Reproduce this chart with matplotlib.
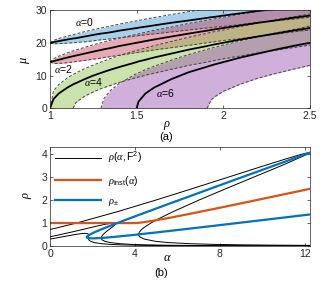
import numpy as np
import matplotlib
matplotlib.use('Agg')
import matplotlib.pyplot as plt

plt.rcParams['font.family'] = ['Liberation Sans', 'DejaVu Sans']
plt.rcParams['mathtext.fontset'] = 'custom'
plt.rcParams['mathtext.rm'] = 'Liberation Sans'
plt.rcParams['mathtext.sf'] = 'Liberation Sans'
plt.rcParams['mathtext.it'] = 'Liberation Serif:italic'

nan = np.nan

# ---- panel (a): instability bands, mu vs rho, for alpha = 0, 2, 4, 6
rho_a = [1.0, 1.02, 1.05, 1.1, 1.133, 1.15, 1.2, 1.25, 1.294, 1.31, 1.35, 1.4, 1.5, 1.51,
         1.55, 1.6, 1.7, 1.8, 1.906, 1.93, 1.95, 2.0, 2.1, 2.2, 2.3, 2.4, 2.5]

mu0_mid = [20.0, 20.2, 20.5, 21.0, 21.3, 21.4, 21.9, 22.4, 22.8, 22.9, 23.2, 23.7, 24.5, 24.6,
           24.9, 25.3, 26.1, 26.8, 27.6, 27.8, 27.9, 28.3, 29.0, 29.7, 30.3, 31.0, 31.6]
mu0_hi = [20.0, 20.7, 21.3, 22.0, 22.5, 22.7, 23.4, 24.0, 24.5, 24.7, 25.1, 25.7, 26.7, 26.8,
          27.2, 27.7, 28.6, 29.5, 30.4, 30.6, 30.8, 31.2, 32.0, 32.8, 33.6, 34.3, 35.1]
mu0_lo = [20.0, 19.7, 19.7, 19.9, 20.0, 20.1, 20.3, 20.6, 20.9, 21.0, 21.2, 21.5, 22.1, 22.2,
          22.4, 22.7, 23.3, 23.9, 24.5, 24.6, 24.8, 25.0, 25.6, 26.2, 26.7, 27.2, 27.8]

mu2_mid = [14.1, 14.4, 14.8, 15.5, 15.9, 16.1, 16.7, 17.3, 17.8, 18.0, 18.4, 19.0, 20.0, 20.1,
           20.5, 21.0, 21.9, 22.8, 23.7, 23.9, 24.1, 24.5, 25.3, 26.1, 26.8, 27.6, 28.3]
mu2_hi = [14.1, 15.1, 15.9, 16.9, 17.5, 17.8, 18.6, 19.4, 20.0, 20.2, 20.8, 21.4, 22.6, 22.7,
          23.2, 23.8, 24.8, 25.9, 26.9, 27.1, 27.3, 27.8, 28.7, 29.6, 30.4, 31.3, 32.1]
mu2_lo = [14.1, 13.7, 13.7, 13.9, 14.1, 14.3, 14.6, 15.0, 15.3, 15.5, 15.8, 16.2, 17.0, 17.1,
          17.4, 17.8, 18.5, 19.2, 20.0, 20.2, 20.3, 20.7, 21.3, 22.0, 22.6, 23.3, 23.9]

mu4_mid = [0.0, 2.8, 4.5, 6.3, 7.3, 7.7, 8.9, 10.0, 10.8, 11.1, 11.8, 12.6, 14.1, 14.3,
           14.8, 15.5, 16.7, 17.9, 19.0, 19.3, 19.5, 20.0, 21.0, 21.9, 22.8, 23.7, 24.5]
mu4_hi = [0.0, 5.3, 7.2, 9.3, 10.3, 10.8, 12.1, 13.2, 14.1, 14.4, 15.2, 16.1, 17.7, 17.8,
          18.4, 19.1, 20.4, 21.7, 22.9, 23.2, 23.4, 23.9, 25.0, 26.0, 27.0, 27.9, 28.8]
mu4_lo = [nan, nan, nan, nan, 0.0, 1.8, 3.7, 5.0, 6.0, 6.3, 7.0, 7.9, 9.4, 9.5,
          10.1, 10.7, 11.9, 13.1, 14.1, 14.4, 14.6, 15.1, 16.0, 16.9, 17.7, 18.5, 19.3]

mu6_mid = [nan, nan, nan, nan, nan, nan, nan, nan, nan, nan, nan, nan, 0.0, 2.0,
           4.5, 6.3, 8.9, 11.0, 12.7, 13.1, 13.4, 14.1, 15.5, 16.7, 17.9, 19.0, 20.0]
mu6_hi = [nan, nan, nan, nan, nan, nan, nan, nan, 0.0, 2.9, 5.5, 7.6, 10.6, 10.8,
          11.8, 12.8, 14.7, 16.4, 18.0, 18.4, 18.6, 19.3, 20.6, 21.8, 23.0, 24.0, 25.1]
mu6_lo = [nan, nan, nan, nan, nan, nan, nan, nan, nan, nan, nan, nan, nan, nan,
          nan, nan, nan, nan, 0.0, 2.6, 3.5, 5.2, 7.4, 9.2, 10.6, 11.9, 13.1]

band_labels = ['$\\alpha$=0', '$\\alpha$=2', '$\\alpha$=4', '$\\alpha$=6']
label_rho = [1.20, 1.075, 1.25, 1.665]
label_mu = [26.4, 12.0, 8.1, 4.6]

# ---- panel (b): rho vs alpha
# rho(alpha, F^2) for three pump levels (upper branch, then back along middle/lower)
c1_alpha = [0.0, 0.378, 1.248, 3.191, 4.983, 6.708, 8.403, 10.096, 11.133, 11.868, 12.21,
            12.22, 12.132, 10.904, 9.597, 8.293, 7.017, 5.809, 5.147, 4.752, 4.422, 4.294,
            4.205, 4.172, 4.186, 4.229, 4.445, 4.999, 5.562, 6.601, 7.769, 9.117, 10.157,
            11.695, 12.318]
c1_rho = [0.72, 0.8, 1.0, 1.5, 2.0, 2.5, 3.0, 3.5, 3.8, 4.0, 4.07,
          4.05, 4.0, 3.5, 3.0, 2.5, 2.0, 1.5, 1.2, 1.0, 0.8, 0.7,
          0.6, 0.5, 0.45, 0.4, 0.3, 0.2, 0.15, 0.1, 0.07, 0.05, 0.04,
          0.03, 0.027]
c2_alpha = [0.0, 0.245, 0.5, 0.984, 1.445, 1.9, 2.367, 2.621, 3.0,
            3.083, 3.086, 3.064, 3.033, 2.9, 2.755, 2.617, 2.5, 2.425, 2.413, 2.428,
            2.482, 2.6, 2.83, 3.3, 3.855, 4.509, 5.776, 7.06, 8.148, 9.98, 12.38]
c2_rho = [0.405, 0.45, 0.5, 0.6, 0.7, 0.8, 0.9, 0.95, 1.0,
          0.98, 0.97, 0.93, 0.9, 0.8, 0.7, 0.6, 0.5, 0.4, 0.35, 0.3,
          0.25, 0.2, 0.15, 0.1, 0.07, 0.05, 0.03, 0.02, 0.015, 0.01, 0.0065]
c3_alpha = [0.0, 0.112, 0.294, 0.588, 0.879, 1.184, 1.32, 1.484, 1.65,
            1.731, 1.756, 1.80, 1.816, 1.822, 1.821, 1.816, 1.809, 1.806, 1.808, 1.813,
            1.845, 1.923, 2.083, 2.42, 2.829, 3.31, 4.25, 5.21, 7.38, 9.54, 11.70, 12.33]
c3_rho = [0.302, 0.32, 0.35, 0.4, 0.45, 0.5, 0.52, 0.54, 0.55,
          0.545, 0.54, 0.52, 0.5, 0.48, 0.45, 0.42, 0.38, 0.35, 0.32, 0.3,
          0.25, 0.2, 0.15, 0.1, 0.07, 0.05, 0.03, 0.02, 0.01, 0.006, 0.004, 0.0036]

inst_alpha = [0.0, 4.0, 4.1, 4.25, 4.5, 5.0, 5.5, 6.0, 7.0, 8.0, 9.0, 10.0, 11.0, 12.25]
inst_rho = [1.0, 1.0, 1.004, 1.017, 1.047, 1.123, 1.206, 1.294, 1.478, 1.667, 1.858,
            2.052, 2.247, 2.492]

pm_alpha = [12.25, 12.0, 11.0, 10.0, 9.0, 8.0, 7.0, 6.0, 5.0, 4.0, 3.5, 3.0, 2.5, 2.2, 2.0,
            1.9, 1.8, 1.75, 1.732, 1.75, 1.8, 1.9, 2.0, 2.2, 2.5, 3.0, 3.5, 4.0, 5.0, 6.0,
            7.0, 8.0, 9.0, 10.0, 11.0, 12.0, 12.25]
pm_rho = [4.070, 3.986, 3.651, 3.317, 2.981, 2.646, 2.309, 1.972, 1.632, 1.290, 1.116,
          0.939, 0.756, 0.640, 0.556, 0.509, 0.454, 0.417, 0.385, 0.361, 0.346, 0.335,
          0.333, 0.338, 0.355, 0.395, 0.440, 0.488, 0.590, 0.695, 0.802, 0.910, 1.019,
          1.128, 1.237, 1.347, 1.375]

BAND_COLORS = ['#3d9ad1', '#c8405e', '#8dc04a', '#9b4fb0']
ORANGE = '#D95319'
BLUE = '#0072BD'
AX_COLOR = '#262626'

W, H = 324, 286
fig = plt.figure(figsize=(W / 100, H / 100), dpi=100)
ax1 = fig.add_axes([50 / W, 1 - 108.3 / H, 260 / W, 98.3 / H])
ax2 = fig.add_axes([50 / W, 1 - 246 / H, 260 / W, 98.7 / H])


def style_axes(ax):
    ax.tick_params(direction='in', top=True, right=True, length=2.5, width=0.5,
                   labelsize=7.5, pad=2, colors=AX_COLOR)
    for sp in ax.spines.values():
        sp.set_linewidth(0.5)
        sp.set_color(AX_COLOR)


# panel (a)
bands = [(mu0_lo, mu0_mid, mu0_hi), (mu2_lo, mu2_mid, mu2_hi),
         (mu4_lo, mu4_mid, mu4_hi), (mu6_lo, mu6_mid, mu6_hi)]
for (lo, mid, hi), col in zip(bands, BAND_COLORS):
    ax1.fill_between(rho_a, np.nan_to_num(lo), np.nan_to_num(hi), color=col,
                     alpha=0.45, linewidth=0)
for lo, mid, hi in bands:
    ax1.plot(rho_a, lo, color='#444444', lw=0.7, ls=(0, (3, 2)))
    ax1.plot(rho_a, hi, color='#444444', lw=0.7, ls=(0, (3, 2)))
for lo, mid, hi in bands:
    ax1.plot(rho_a, mid, color='black', lw=1.3)
for lab, x, y in zip(band_labels, label_rho, label_mu):
    ax1.text(x, y, lab, fontsize=7.5, ha='center', va='center')

ax1.set_xlim(1, 2.5)
ax1.set_ylim(0, 30)
ax1.set_xticks([1, 1.5, 2, 2.5])
ax1.set_xticklabels(['1', '1.5', '2', '2.5'])
ax1.set_yticks([0, 10, 20, 30])
style_axes(ax1)

# panel (b)
ax2.plot(c1_alpha, c1_rho, color='black', lw=0.7, label='$\\rho(\\alpha,\\mathrm{F}^{2})$')
ax2.plot(c2_alpha, c2_rho, color='black', lw=0.7)
ax2.plot(c3_alpha, c3_rho, color='black', lw=0.7)
ax2.plot(inst_alpha, inst_rho, color=ORANGE, lw=1.6, label='$\\rho_{\\mathrm{inst}}(\\alpha)$')
ax2.plot(pm_alpha, pm_rho, color=BLUE, lw=1.6, label='$\\rho_{\\pm}$')

ax2.set_xlim(0, 12.25)
ax2.set_ylim(0, 4.3)
ax2.set_xticks([0, 4, 8, 12])
ax2.set_yticks([0, 1, 2, 3, 4])
style_axes(ax2)
ax2.legend(loc='upper left', bbox_to_anchor=(0.02, 0.97), frameon=False, fontsize=7.5,
           handlelength=4.4, handletextpad=0.7, labelspacing=0.8, borderpad=0,
           borderaxespad=0)

# axis labels and panel tags
fig.text(25 / W, 1 - 60 / H, '$\\mu$', fontsize=9, rotation=90, ha='center', va='center')
fig.text(167 / W, 1 - 125 / H, '$\\rho$', fontsize=9, ha='center', va='center')
fig.text(166 / W, 1 - 137 / H, '(a)', fontsize=8, ha='center', va='center')
fig.text(28 / W, 1 - 195 / H, '$\\rho$', fontsize=9, rotation=90, ha='center', va='center')
fig.text(167 / W, 1 - 258 / H, '$\\alpha$', fontsize=9, ha='center', va='center')
fig.text(161 / W, 1 - 273 / H, '(b)', fontsize=8, ha='center', va='center')

fig.savefig('out.png', dpi=100)
